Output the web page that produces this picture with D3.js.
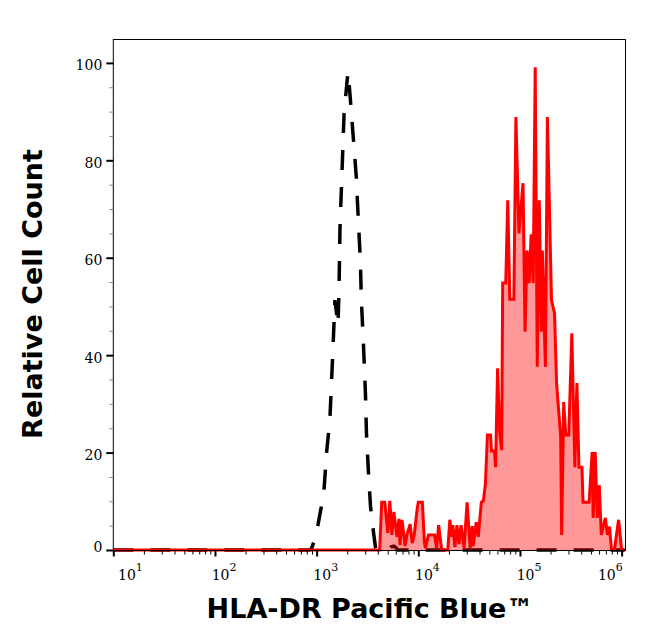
<!DOCTYPE html>
<html><head><meta charset="utf-8">
<script src="https://cdn.jsdelivr.net/npm/d3@7"></script>
<style>body{margin:0;background:#fff}</style>
</head><body><svg id="c" width="646" height="641"></svg>
<script>
// Stained sample (red, filled): log10 intensity and relative count
const redLog10 = [1.00,3.62,3.64,3.67,3.70,3.72,3.74,3.76,3.79,3.81,3.82,3.84,3.87,3.89,3.92,3.94,3.96,3.99,4.00,4.04,4.06,4.07,4.10,4.16,4.18,4.20,4.23,4.29,4.31,4.33,4.34,4.36,4.38,4.40,4.42,4.45,4.48,4.51,4.53,4.54,4.57,4.59,4.62,4.64,4.66,4.68,4.71,4.72,4.75,4.76,4.78,4.80,4.82,4.83,4.86,4.88,4.90,4.94,4.96,4.99,5.03,5.05,5.07,5.09,5.11,5.13,5.15,5.17,5.19,5.21,5.22,5.25,5.27,5.31,5.34,5.36,5.38,5.40,5.41,5.43,5.45,5.48,5.51,5.54,5.56,5.58,5.61,5.62,5.68,5.71,5.72,5.74,5.76,5.78,5.80,5.84,5.86,5.88,5.90,5.93,5.97,6.00,6.03];
const redCount = [0,0,9.8,9.8,3.5,10.1,3.1,7.8,2.7,6.4,1.0,6.2,0.8,3.3,5.3,1.4,3.1,8.6,9.8,9.8,1.6,0.4,3.1,3.1,0.4,5.1,0,0,6.2,2.7,5.1,0.6,5.1,1.2,5.1,0.4,9.8,0.4,4.9,0.8,5.7,2.7,9.8,10.1,13.5,23.6,23.6,20.3,20.3,17.0,37.3,24.2,20.5,54.8,54.8,71.8,51.5,51.5,88.9,65.0,75.3,44.8,61.5,54.8,64.8,54.8,99.1,37.6,71.8,44.8,61.5,37.6,88.9,51.3,48.6,34.3,28.7,23.6,3.1,30.4,23.6,23.6,44.5,17.0,34.3,17.0,17.0,9.8,9.8,20.1,6.6,20.1,6.6,13.3,3.1,6.6,3.1,4.8,0.2,0.2,6.2,0,0];
// Isotype control (black dashed)
const isoLog10 = [1.00,2.93,2.95,2.98,3.01,3.07,3.10,3.13,3.16,3.18,3.21,3.22,3.23,3.25,3.27,3.30,3.31,3.33,3.36,3.39,3.41,3.43,3.44,3.46,3.48,3.49,3.51,3.53,3.56,3.58,3.60,3.71,3.73,3.76,3.78,3.80,6.03];
const isoCount = [0,0,0.3,2.1,4.8,11.6,20.5,26.7,41.0,51.3,46.2,53.3,66.3,77.9,89.6,96.4,98.1,93.0,84.8,76.6,67.7,59.5,51.3,42.5,32.2,24.0,15.8,8.9,3.5,0.4,0,0,0.6,0.8,0.5,0,0];
const xTickExponents = [1,2,3,4,5,6];
const yTicks = [0,20,40,60,80,100];
const yMinorTicks = [5,10,15,25,30,35,45,50,55,65,70,75,85,90,95];
const xTitle = "HLA-DR Pacific Blue™";
const yTitle = "Relative Cell Count";

const svg = d3.select("#c");
const L = 113.3, R = 625.5, T = 39.5, B = 550.5;
const x = d3.scaleLog().domain([10, Math.pow(10, 6.038)]).range([L, R]);
const y = d3.scaleLinear().domain([0, 104.7]).range([550, 40]);

const red = redLog10.map((e, i) => ({v: Math.pow(10, e), c: redCount[i]}));
const iso = isoLog10.map((e, i) => ({v: Math.pow(10, e), c: isoCount[i]}));

const line = d3.line().x(d => x(d.v)).y(d => y(d.c));
const area = d3.area().x(d => x(d.v)).y0(y(0)).y1(d => y(d.c));

// isotype dashed
svg.append("path").attr("d", line(iso)).attr("fill", "none")
  .attr("stroke", "#000").attr("stroke-width", 3.5).attr("stroke-dasharray", "20,17");

// red filled
svg.append("path").attr("d", area(red)).attr("fill", "rgba(255,0,0,0.4)");
svg.append("path").attr("d", line(red)).attr("fill", "none")
  .attr("stroke", "#ff0000").attr("stroke-width", 3).attr("stroke-linejoin", "miter");

// frame
svg.append("rect").attr("x", L).attr("y", T).attr("width", R - L).attr("height", B - T)
  .attr("fill", "none").attr("stroke", "#000").attr("stroke-width", 1);

// y axis
const yAx = svg.append("g").attr("transform", `translate(${L},0)`);
yAx.call(d3.axisLeft(y).tickValues(yTicks).tickSize(7).tickFormat(""))
  .call(g => g.select(".domain").remove())
  .call(g => g.selectAll("line").attr("stroke-width", 2));
const yMin = svg.append("g").attr("transform", `translate(${L},0)`);
yMin.call(d3.axisLeft(y).tickValues(yMinorTicks).tickSize(4).tickFormat(""))
  .call(g => g.select(".domain").remove())
  .call(g => g.selectAll("line").attr("stroke", "#888").attr("stroke-width", 1));
svg.append("g").selectAll("text").data(yTicks).join("text")
  .attr("x", L - 11).attr("y", d => y(d) + (d === 0 ? 1.5 : 7.5))
  .attr("text-anchor", "end").attr("font-family", "DejaVu Serif").attr("font-size", 14)
  .attr("fill", "#000").text(d => d);

// x axis
const majors = xTickExponents.map(e => Math.pow(10, e));
const minors = [];
[1,2,3,4,5].forEach(e => { for (let k = 2; k <= 9; k++) minors.push(k * Math.pow(10, e)); });
const xAx = svg.append("g").attr("transform", `translate(0,${B})`);
xAx.call(d3.axisBottom(x).tickValues(majors).tickSize(6).tickFormat(""))
  .call(g => g.select(".domain").remove())
  .call(g => g.selectAll("line").attr("stroke-width", 2));
const xMin = svg.append("g").attr("transform", `translate(0,${B})`);
xMin.call(d3.axisBottom(x).tickValues(minors).tickSize(4).tickFormat(""))
  .call(g => g.select(".domain").remove())
  .call(g => g.selectAll("line").attr("stroke-width", 1));
const xl = svg.append("g").selectAll("text").data(xTickExponents).join("text")
  .attr("x", (e, i) => {
    const px = x(Math.pow(10, e));
    if (i === 0) return px + 4.7;
    if (i === xTickExponents.length - 1) return px - 23.7;
    return px - 3.3;
  })
  .attr("y", 580).attr("font-family", "DejaVu Serif").attr("font-size", 14).attr("fill", "#000");
xl.append("tspan").text("10");
xl.append("tspan").attr("font-size", 11).attr("dy", -9).text(e => e);

// titles
svg.append("text").attr("x", 370).attr("y", 618).attr("text-anchor", "middle")
  .attr("font-family", "DejaVu Sans").attr("font-weight", "bold").attr("font-size", 27)
  .attr("fill", "#000").text(xTitle);
svg.append("text").attr("transform", "translate(41.5,294) rotate(-90)").attr("text-anchor", "middle")
  .attr("font-family", "DejaVu Sans").attr("font-weight", "bold").attr("font-size", 27)
  .attr("fill", "#000").text(yTitle);
</script></body></html>
